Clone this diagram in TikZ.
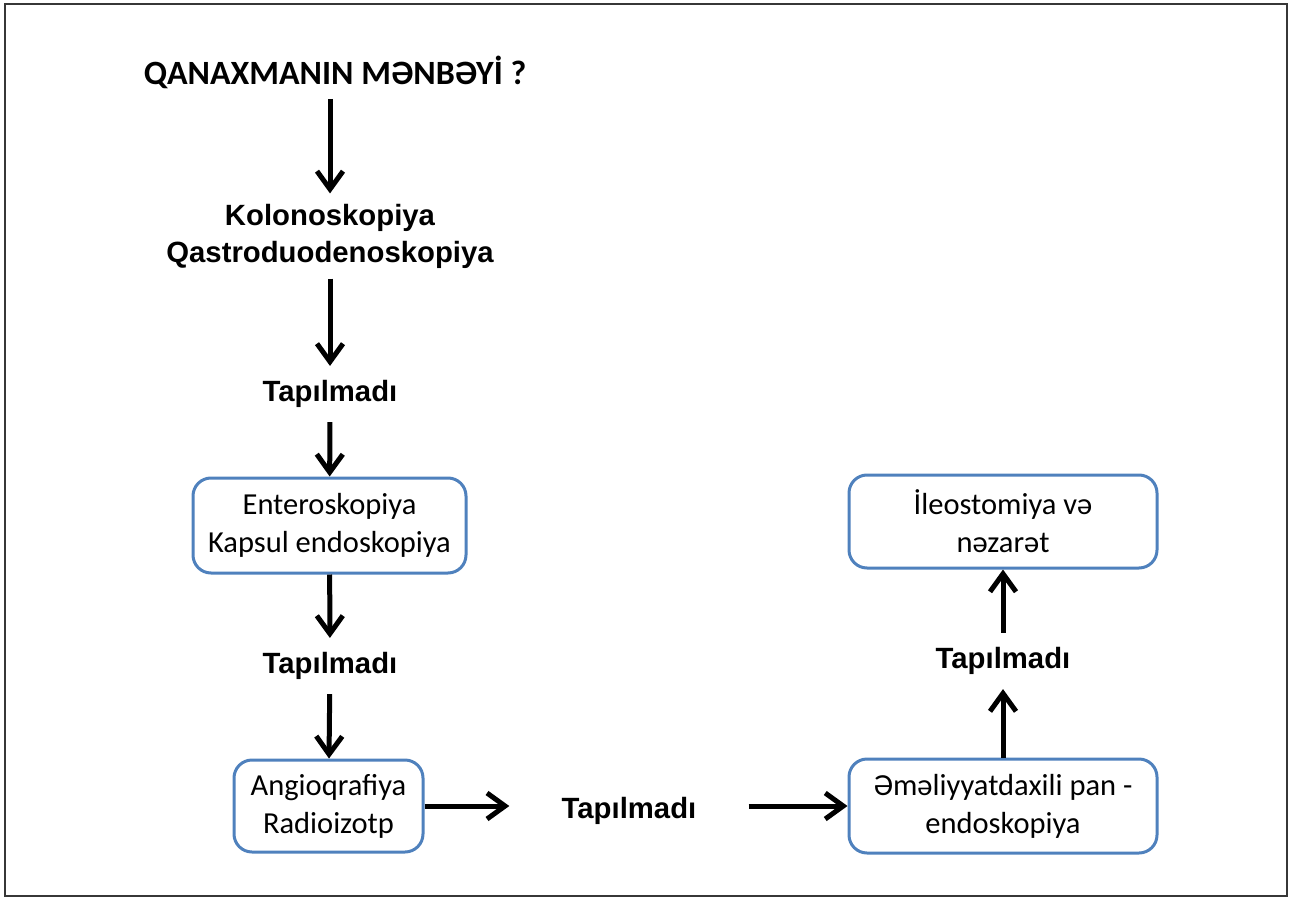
\documentclass[tikz,border=0pt]{standalone}
\usepackage{fontspec}
\setmainfont{Carlito}
\newfontfamily\headfont{Liberation Sans}
\usetikzlibrary{arrows.meta,positioning}
\definecolor{boxblue}{RGB}{79,129,189}
\definecolor{framegray}{RGB}{55,55,55}
\tikzset{
  stage/.style={draw=boxblue,line width=1.5pt,rounded corners=9pt,fill=white,align=center,font=\fontsize{15.25}{19}\selectfont,inner sep=0pt},
  lbl/.style={align=center,font=\headfont\bfseries\fontsize{14.65}{18.5}\selectfont,inner xsep=2pt,inner ysep=7pt},
  title/.style={font=\bfseries\fontsize{17}{20}\selectfont,inner ysep=5pt},
  arr/.style={-{Straight Barb[length=9pt,width=13pt]},draw=black,line width=2.5pt}
}

\begin{document}
\begin{tikzpicture}[x=0.5pt,y=-0.5pt]
  \useasboundingbox (0,0) rectangle (1290,899);
  \draw[framegray,line width=0.8pt] (5,4) rectangle (1287,896);

  % left column
  \node[title] (src) at (335,72) {QANAXMANIN MƏNBƏYİ ?};
  \node[lbl,inner ysep=5pt] (endo) at (330,236) {Kolonoskopiya\\Qastroduodenoskopiya};
  \node[lbl] (miss1) at (330,394) {Tapılmadı};
  \node[stage,minimum width=136.5pt,minimum height=47.5pt] (entero) at (329.5,525.5) {Enteroskopiya\\Kapsul endoskopiya};
  \node[lbl] (miss2) at (330,666) {Tapılmadı};
  \node[stage,minimum width=94.5pt,minimum height=46pt] (angio) at (328.5,806) {Angioqrafiya\\Radioizotp};

  % bottom row and right column
  \node[lbl,inner xsep=26pt] (miss3) at (629,811) {Tapılmadı};
  \node[stage,minimum width=154pt,minimum height=47pt] (pan) at (1003,806) {Əməliyyatdaxili pan -\\endoskopiya};
  \node[lbl] (miss4) at (1003,661) {Tapılmadı};
  \node[stage,minimum width=154pt,minimum height=46.5pt] (ileo) at (1003,521.5) {İleostomiya və\\nəzarət};

  \draw[arr] (src.south -| endo) -- (endo);
  \draw[arr] (endo) -- (miss1);
  \draw[arr] (miss1) -- (entero);
  \draw[arr] (entero) -- (miss2);
  \draw[arr] (miss2) -- (angio);
  \draw[arr] (angio.east) -- (angio.east -| miss3.west);
  \draw[arr] (miss3.east |- pan.west) -- (pan.west);
  \draw[arr] (pan) -- (miss4);
  \draw[arr] (miss4) -- (ileo);
\end{tikzpicture}
\end{document}
